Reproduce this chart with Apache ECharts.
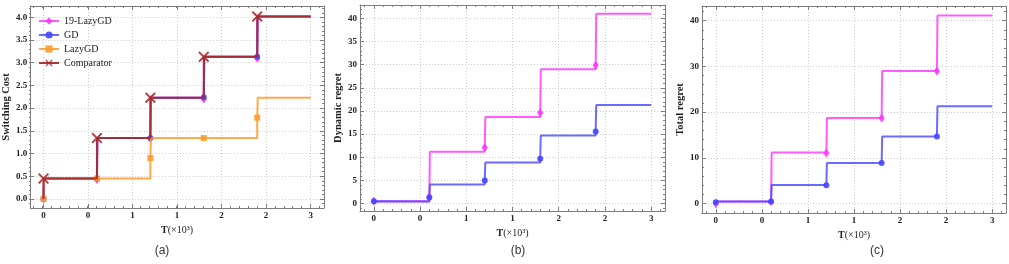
<!DOCTYPE html>
<html><head><meta charset="utf-8">
<script src="https://cdn.jsdelivr.net/npm/echarts@6/dist/echarts.min.js"></script>
<style>html,body{margin:0;padding:0;background:#fff}#c{width:1009px;height:264px}</style>
</head><body><div id="c"></div>
<script>
// ---------- data ----------
const stepX = [0, 0.6, 1.2, 1.8, 2.4];
const endX = 3;
const xTicks = [0, 0.5, 1, 1.5, 2, 2.5, 3];
const legendNames = ['19-LazyGD', 'GD', 'LazyGD', 'Comparator'];

// (a) Switching cost
const a_lazy19_levels = [0.45, 1.34, 2.23, 3.13, 4.02];
const a_lazy19_marks  = [0.0, 0.43, 1.33, 2.20, 3.10];
const a_gd_levels     = [0.45, 1.34, 2.23, 3.13, 4.02];
const a_gd_marks      = [0.0, 0.45, 1.34, 2.24, 3.13];
const a_lazy_levels   = [0.45, 0.45, 1.34, 1.34, 2.23];
const a_lazy_marks    = [0.0, 0.45, 0.90, 1.34, 1.79];
const a_comp_levels   = [0.45, 1.34, 2.23, 3.13, 4.02];
const a_comp_marks    = [0.45, 1.34, 2.23, 3.13, 4.02];
const a_yTicks = [0, 0.5, 1, 1.5, 2, 2.5, 3, 3.5, 4];

// (b) Dynamic regret
const b_lazy19_levels = [0.5, 11.2, 18.7, 29.0, 41.0];
const b_lazy19_marks  = [0.5, 1.4, 12.1, 19.6, 29.9];
const b_gd_levels     = [0.45, 4.1, 8.9, 14.7, 21.3];
const b_gd_marks      = [0.5, 1.3, 5.0, 9.7, 15.6];
const b_yTicks = [0, 5, 10, 15, 20, 25, 30, 35, 40];

// (c) Total regret
const c_lazy19_levels = [0.5, 11.2, 18.7, 29.0, 41.1];
const c_lazy19_marks  = [0.0, 0.4, 11.1, 18.7, 29.0];
const c_gd_levels     = [0.5, 4.1, 8.9, 14.7, 21.3];
const c_gd_marks      = [0.3, 0.5, 4.0, 8.9, 14.7];
const c_yTicks = [0, 10, 20, 30, 40];

// ---------- helpers ----------
const SERIF = 'Liberation Serif';
const FRAME = '#7d7d7d';
function range(a, b, s) { const r = []; for (let v = a; v <= b + 1e-9; v += s) r.push(Math.round(v * 1000) / 1000); return r; }

function stepData(levels, marks) {
  const d = []; const eps = 0.006;
  for (let i = 0; i < stepX.length; i++) {
    const prev = i === 0 ? 0 : levels[i - 1];
    d.push({ value: [stepX[i], prev], symbol: 'none' });
    d.push({ value: [stepX[i], marks[i]] });
    d.push({ value: [stepX[i] + eps, levels[i]], symbol: 'none' });
  }
  d.push({ value: [endX, levels[levels.length - 1]], symbol: 'none' });
  return d;
}

const grids = [], xAxes = [], yAxes = [], series = [];
function panel(rect, xr, yr, yTicks, yMinor, yFmt, yName, yNameGap, ySplit) {
  const gMain = grids.length;
  grids.push(Object.assign({ containLabel: false }, rect));
  grids.push(Object.assign({ containLabel: false }, rect));
  const gMinor = gMain + 1;
  const xi = xAxes.length, yi = yAxes.length;
  const xMinorVals = range(-0.1, 3.1, 0.1);
  const common = (g, pos, mn, mx, showLine) => ({ gridIndex: g, type: 'value', position: pos, min: mn, max: mx,
    axisLine: { show: showLine, onZero: false, lineStyle: { color: FRAME, width: 1 } } });
  xAxes.push(Object.assign(common(gMain, 'bottom', xr[0], xr[1], true), {
    splitNumber: 7,
    axisTick: { show: true, inside: true, length: 4, customValues: xTicks, lineStyle: { color: FRAME } },
    axisLabel: { customValues: xTicks, formatter: v => String(Math.floor(v)), fontFamily: SERIF, fontWeight: 'bold', fontSize: 9, color: '#222', margin: 3 },
    splitLine: { show: true, lineStyle: { type: [1, 2], color: '#cccccc', width: 1 } },
    name: '{b|T}{n|(×10³)}', nameLocation: 'middle', nameGap: 17,
    nameTextStyle: { rich: { b: { fontFamily: SERIF, fontWeight: 'bold', fontSize: 10, color: '#222' }, n: { fontFamily: SERIF, fontSize: 10, color: '#222' } } }
  }));
  xAxes.push(Object.assign(common(gMain, 'top', xr[0], xr[1], true), {
    axisTick: { show: true, inside: true, length: 4, customValues: xTicks, lineStyle: { color: FRAME } },
    axisLabel: { show: false }, splitLine: { show: false }
  }));
  ['bottom', 'top'].forEach(p => xAxes.push(Object.assign(common(gMinor, p, xr[0], xr[1], false), {
    axisTick: { show: true, inside: true, length: 2, customValues: xMinorVals, lineStyle: { color: FRAME } },
    axisLabel: { show: false }, splitLine: { show: false }
  })));
  yAxes.push(Object.assign(common(gMain, 'left', yr[0], yr[1], true), {
    splitNumber: ySplit,
    axisTick: { show: true, inside: true, length: 4, customValues: yTicks, lineStyle: { color: FRAME } },
    axisLabel: { customValues: yTicks, formatter: yFmt, fontFamily: SERIF, fontWeight: 'bold', fontSize: 9, color: '#222', margin: 3 },
    splitLine: { show: true, lineStyle: { type: [1, 2], color: '#cccccc', width: 1 } },
    name: yName, nameLocation: 'middle', nameGap: yNameGap,
    nameTextStyle: { fontFamily: SERIF, fontWeight: 'bold', fontSize: 10.5, color: '#222' }
  }));
  yAxes.push(Object.assign(common(gMain, 'right', yr[0], yr[1], true), {
    axisTick: { show: true, inside: true, length: 4, customValues: yTicks, lineStyle: { color: FRAME } },
    axisLabel: { show: false }, splitLine: { show: false }
  }));
  ['left', 'right'].forEach(p => yAxes.push(Object.assign(common(gMinor, p, yr[0], yr[1], false), {
    axisTick: { show: true, inside: true, length: 2, customValues: yMinor, lineStyle: { color: FRAME } },
    axisLabel: { show: false }, splitLine: { show: false }
  })));
  return { xi, yi };
}

const XSYM = 'path://M0,1.2L1.2,0L5,3.8L8.8,0L10,1.2L6.2,5L10,8.8L8.8,10L5,6.2L1.2,10L0,8.8L3.8,5Z';
const styles = {
  '19-LazyGD': { color: '#ff33ff', symbol: 'diamond', symbolSize: [6, 9], op: 0.8 },
  'GD': { color: '#4646ff', symbol: 'circle', symbolSize: 6, op: 0.8 },
  'LazyGD': { color: '#ff9a2e', symbol: 'rect', symbolSize: 6, op: 0.85 },
  'Comparator': { color: '#a82a2c', symbol: XSYM, symbolSize: 11, op: 0.95 }
};
function addSeries(name, ax, levels, marks, z) {
  const s = styles[name];
  series.push({
    name, type: 'line', xAxisIndex: ax.xi, yAxisIndex: ax.yi, data: stepData(levels, marks),
    symbol: s.symbol, symbolSize: s.symbolSize, z,
    itemStyle: { color: s.color, opacity: 0.9 },
    lineStyle: { color: s.color, width: 2, opacity: s.op },
    emphasis: { disabled: true }
  });
}

const pa = panel({ left: 29, top: 6, width: 295, height: 202 }, [-0.15, 3.15], [-0.2, 4.25], a_yTicks, range(-0.1, 4.2, 0.1), v => v.toFixed(1), 'Switching Cost', 15, 9);
addSeries('19-LazyGD', pa, a_lazy19_levels, a_lazy19_marks, 2);
addSeries('GD', pa, a_gd_levels, a_gd_marks, 3);
addSeries('LazyGD', pa, a_lazy_levels, a_lazy_marks, 4);
addSeries('Comparator', pa, a_comp_levels, a_comp_marks, 5);

const pb = panel({ left: 360, top: 5, width: 305, height: 206 }, [-0.15, 3.15], [-1.6, 42.9], b_yTicks, range(-1, 42, 1), v => String(v), 'Dynamic regret', 12, 9);
addSeries('19-LazyGD', pb, b_lazy19_levels, b_lazy19_marks, 2);
addSeries('GD', pb, b_gd_levels, b_gd_marks, 3);

const pc = panel({ left: 702, top: 6, width: 304, height: 207 }, [-0.15, 3.15], [-2.04, 43.2], c_yTicks, range(-2, 43, 2), v => String(v), 'Total regret', 13, 5);
addSeries('19-LazyGD', pc, c_lazy19_levels, c_lazy19_marks, 2);
addSeries('GD', pc, c_gd_levels, c_gd_marks, 3);

const captions = [{ t: '(a)', x: 157 }, { t: '(b)', x: 513 }, { t: '(c)', x: 872 }];

const chart = echarts.init(document.getElementById('c'), null, { renderer: 'canvas' });
chart.setOption({
  backgroundColor: '#fff',
  animation: false,
  grid: grids, xAxis: xAxes, yAxis: yAxes, series,
  legend: {
    data: legendNames, orient: 'vertical', left: 33, top: 11, itemWidth: 20, itemHeight: 9, itemGap: 4,
    textStyle: { fontFamily: SERIF, fontSize: 10, color: '#222' }, selectedMode: false
  },
  title: captions.map(c => ({ text: c.t, left: c.x, top: 240, textAlign: 'center',
    textStyle: { fontFamily: 'Liberation Sans', fontWeight: 'normal', fontSize: 12, color: '#333' } }))
});
</script></body></html>
